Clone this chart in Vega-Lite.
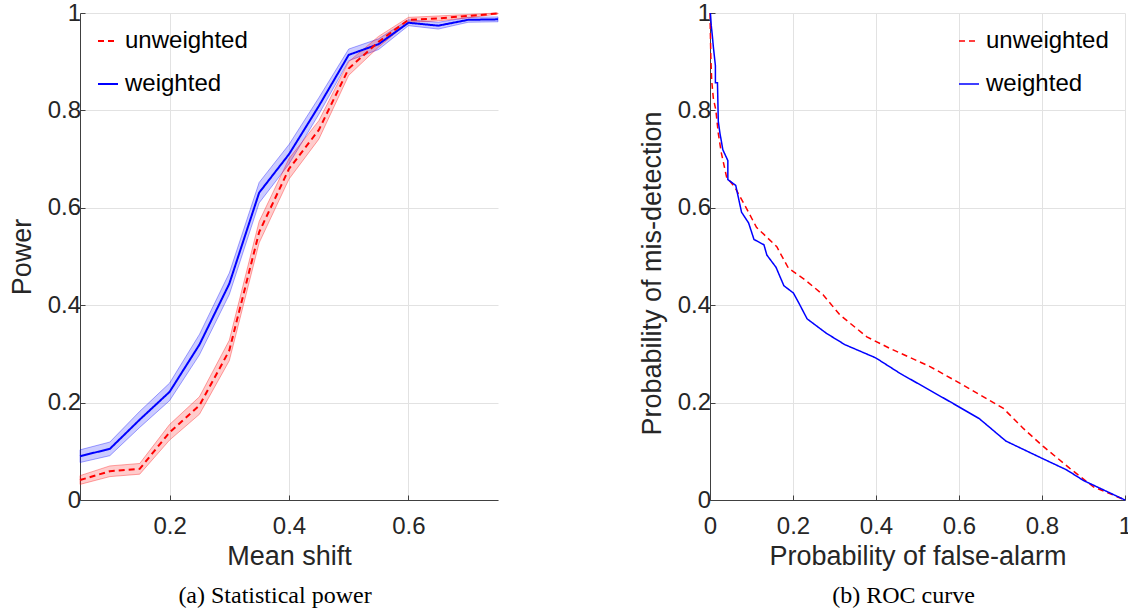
{
  "$schema": "https://vega.github.io/schema/vega-lite/v6.json",
  "padding": {"left": 8, "top": 1, "right": 0, "bottom": 0},
  "datasets": {
    "power": [
      {"shift": 0.05, "method": "weighted", "p": 0.090, "lo": 0.077, "hi": 0.103},
      {"shift": 0.10, "method": "weighted", "p": 0.105, "lo": 0.091, "hi": 0.119},
      {"shift": 0.15, "method": "weighted", "p": 0.165, "lo": 0.149, "hi": 0.182},
      {"shift": 0.20, "method": "weighted", "p": 0.222, "lo": 0.204, "hi": 0.240},
      {"shift": 0.25, "method": "weighted", "p": 0.319, "lo": 0.298, "hi": 0.340},
      {"shift": 0.30, "method": "weighted", "p": 0.444, "lo": 0.422, "hi": 0.466},
      {"shift": 0.35, "method": "weighted", "p": 0.631, "lo": 0.610, "hi": 0.652},
      {"shift": 0.40, "method": "weighted", "p": 0.710, "lo": 0.690, "hi": 0.730},
      {"shift": 0.45, "method": "weighted", "p": 0.809, "lo": 0.792, "hi": 0.826},
      {"shift": 0.50, "method": "weighted", "p": 0.914, "lo": 0.902, "hi": 0.926},
      {"shift": 0.55, "method": "weighted", "p": 0.936, "lo": 0.925, "hi": 0.947},
      {"shift": 0.60, "method": "weighted", "p": 0.980, "lo": 0.974, "hi": 0.986},
      {"shift": 0.65, "method": "weighted", "p": 0.974, "lo": 0.967, "hi": 0.981},
      {"shift": 0.70, "method": "weighted", "p": 0.986, "lo": 0.981, "hi": 0.991},
      {"shift": 0.75, "method": "weighted", "p": 0.987, "lo": 0.982, "hi": 0.992},
      {"shift": 0.05, "method": "unweighted", "p": 0.041, "lo": 0.032, "hi": 0.050},
      {"shift": 0.10, "method": "unweighted", "p": 0.059, "lo": 0.048, "hi": 0.070},
      {"shift": 0.15, "method": "unweighted", "p": 0.064, "lo": 0.053, "hi": 0.075},
      {"shift": 0.20, "method": "unweighted", "p": 0.139, "lo": 0.123, "hi": 0.155},
      {"shift": 0.25, "method": "unweighted", "p": 0.194, "lo": 0.176, "hi": 0.212},
      {"shift": 0.30, "method": "unweighted", "p": 0.307, "lo": 0.286, "hi": 0.328},
      {"shift": 0.35, "method": "unweighted", "p": 0.550, "lo": 0.528, "hi": 0.572},
      {"shift": 0.40, "method": "unweighted", "p": 0.680, "lo": 0.659, "hi": 0.701},
      {"shift": 0.45, "method": "unweighted", "p": 0.760, "lo": 0.741, "hi": 0.779},
      {"shift": 0.50, "method": "unweighted", "p": 0.886, "lo": 0.872, "hi": 0.900},
      {"shift": 0.55, "method": "unweighted", "p": 0.941, "lo": 0.930, "hi": 0.952},
      {"shift": 0.60, "method": "unweighted", "p": 0.986, "lo": 0.981, "hi": 0.991},
      {"shift": 0.65, "method": "unweighted", "p": 0.989, "lo": 0.984, "hi": 0.994},
      {"shift": 0.70, "method": "unweighted", "p": 0.994, "lo": 0.990, "hi": 0.997},
      {"shift": 0.75, "method": "unweighted", "p": 0.999, "lo": 0.998, "hi": 1.000}
    ],
    "roc": [
      {"method": "unweighted", "i": 1, "pfa": 0.0, "pmd": 1.0},
      {"method": "unweighted", "i": 2, "pfa": 0.002, "pmd": 0.910},
      {"method": "unweighted", "i": 3, "pfa": 0.004, "pmd": 0.862},
      {"method": "unweighted", "i": 4, "pfa": 0.008, "pmd": 0.825},
      {"method": "unweighted", "i": 5, "pfa": 0.014, "pmd": 0.801},
      {"method": "unweighted", "i": 6, "pfa": 0.020, "pmd": 0.753},
      {"method": "unweighted", "i": 7, "pfa": 0.027, "pmd": 0.714},
      {"method": "unweighted", "i": 8, "pfa": 0.040, "pmd": 0.663},
      {"method": "unweighted", "i": 9, "pfa": 0.060, "pmd": 0.642},
      {"method": "unweighted", "i": 10, "pfa": 0.084, "pmd": 0.605},
      {"method": "unweighted", "i": 11, "pfa": 0.112, "pmd": 0.560},
      {"method": "unweighted", "i": 12, "pfa": 0.161, "pmd": 0.520},
      {"method": "unweighted", "i": 13, "pfa": 0.169, "pmd": 0.507},
      {"method": "unweighted", "i": 14, "pfa": 0.189, "pmd": 0.476},
      {"method": "unweighted", "i": 15, "pfa": 0.229, "pmd": 0.452},
      {"method": "unweighted", "i": 16, "pfa": 0.273, "pmd": 0.421},
      {"method": "unweighted", "i": 17, "pfa": 0.313, "pmd": 0.380},
      {"method": "unweighted", "i": 18, "pfa": 0.378, "pmd": 0.335},
      {"method": "unweighted", "i": 19, "pfa": 0.434, "pmd": 0.311},
      {"method": "unweighted", "i": 20, "pfa": 0.530, "pmd": 0.274},
      {"method": "unweighted", "i": 21, "pfa": 0.610, "pmd": 0.236},
      {"method": "unweighted", "i": 22, "pfa": 0.707, "pmd": 0.188},
      {"method": "unweighted", "i": 23, "pfa": 0.755, "pmd": 0.147},
      {"method": "unweighted", "i": 24, "pfa": 0.803, "pmd": 0.110},
      {"method": "unweighted", "i": 25, "pfa": 0.867, "pmd": 0.065},
      {"method": "unweighted", "i": 26, "pfa": 0.924, "pmd": 0.027},
      {"method": "unweighted", "i": 27, "pfa": 1.0, "pmd": 0.0},
      {"method": "weighted", "i": 1, "pfa": 0.001, "pmd": 1.0},
      {"method": "weighted", "i": 2, "pfa": 0.003, "pmd": 0.975},
      {"method": "weighted", "i": 3, "pfa": 0.006, "pmd": 0.950},
      {"method": "weighted", "i": 4, "pfa": 0.008, "pmd": 0.931},
      {"method": "weighted", "i": 5, "pfa": 0.013, "pmd": 0.892},
      {"method": "weighted", "i": 6, "pfa": 0.013, "pmd": 0.857},
      {"method": "weighted", "i": 7, "pfa": 0.018, "pmd": 0.857},
      {"method": "weighted", "i": 8, "pfa": 0.020, "pmd": 0.777},
      {"method": "weighted", "i": 9, "pfa": 0.024, "pmd": 0.753},
      {"method": "weighted", "i": 10, "pfa": 0.031, "pmd": 0.719},
      {"method": "weighted", "i": 11, "pfa": 0.043, "pmd": 0.697},
      {"method": "weighted", "i": 12, "pfa": 0.043, "pmd": 0.658},
      {"method": "weighted", "i": 13, "pfa": 0.062, "pmd": 0.646},
      {"method": "weighted", "i": 14, "pfa": 0.076, "pmd": 0.591},
      {"method": "weighted", "i": 15, "pfa": 0.093, "pmd": 0.569},
      {"method": "weighted", "i": 16, "pfa": 0.106, "pmd": 0.535},
      {"method": "weighted", "i": 17, "pfa": 0.130, "pmd": 0.524},
      {"method": "weighted", "i": 18, "pfa": 0.137, "pmd": 0.503},
      {"method": "weighted", "i": 19, "pfa": 0.159, "pmd": 0.478},
      {"method": "weighted", "i": 20, "pfa": 0.178, "pmd": 0.440},
      {"method": "weighted", "i": 21, "pfa": 0.201, "pmd": 0.425},
      {"method": "weighted", "i": 22, "pfa": 0.215, "pmd": 0.403},
      {"method": "weighted", "i": 23, "pfa": 0.234, "pmd": 0.372},
      {"method": "weighted", "i": 24, "pfa": 0.281, "pmd": 0.342},
      {"method": "weighted", "i": 25, "pfa": 0.325, "pmd": 0.319},
      {"method": "weighted", "i": 26, "pfa": 0.399, "pmd": 0.292},
      {"method": "weighted", "i": 27, "pfa": 0.458, "pmd": 0.260},
      {"method": "weighted", "i": 28, "pfa": 0.578, "pmd": 0.202},
      {"method": "weighted", "i": 29, "pfa": 0.649, "pmd": 0.167},
      {"method": "weighted", "i": 30, "pfa": 0.713, "pmd": 0.121},
      {"method": "weighted", "i": 31, "pfa": 0.799, "pmd": 0.086},
      {"method": "weighted", "i": 32, "pfa": 0.859, "pmd": 0.062},
      {"method": "weighted", "i": 33, "pfa": 0.900, "pmd": 0.040},
      {"method": "weighted", "i": 34, "pfa": 1.0, "pmd": 0.0}
    ]
  },
  "hconcat": [
    {
      "width": 418,
      "height": 487,
      "title": {"text": "(a) Statistical power", "orient": "bottom", "frame": "group", "anchor": "middle", "dx": -14, "offset": 15, "font": "Liberation Serif", "fontSize": 24, "fontWeight": "normal", "color": "#000000"},
      "data": {"name": "power"},
      "layer": [
        {
          "mark": {"type": "area", "fillOpacity": 0.2, "strokeOpacity": 0.35, "strokeWidth": 1},
          "encoding": {
            "x": {"field": "shift", "type": "quantitative", "scale": {"domain": [0.05, 0.75], "nice": false, "zero": false}, "axis": {"title": "Mean shift", "values": [0.2, 0.4, 0.6], "format": "~g"}},
            "y": {"field": "lo", "type": "quantitative", "scale": {"domain": [0, 1], "nice": false}, "axis": {"title": "Power", "values": [0, 0.2, 0.4, 0.6, 0.8, 1], "format": "~g"}},
            "y2": {"field": "hi"},
            "fill": {"field": "method", "type": "nominal", "scale": {"domain": ["unweighted", "weighted"], "range": ["#ff0000", "#0000ff"]}, "legend": null},
            "stroke": {"field": "method", "type": "nominal", "scale": {"domain": ["unweighted", "weighted"], "range": ["#ff0000", "#0000ff"]}, "legend": null}
          }
        },
        {
          "mark": {"type": "line", "strokeWidth": 2},
          "encoding": {
            "x": {"field": "shift", "type": "quantitative"},
            "y": {"field": "p", "type": "quantitative", "axis": {"title": "Power", "values": [0, 0.2, 0.4, 0.6, 0.8, 1], "format": "~g"}},
            "color": {"field": "method", "type": "nominal", "scale": {"domain": ["unweighted", "weighted"], "range": ["#ff0000", "#0000ff"]}, "legend": {"orient": "top-left", "title": null, "symbolStrokeWidth": 2}},
            "strokeDash": {"field": "method", "type": "nominal", "scale": {"domain": ["unweighted", "weighted"], "range": [[6, 4], [1, 0]]}, "legend": {"orient": "top-left", "title": null, "symbolStrokeWidth": 2}}
          }
        }
      ]
    },
    {
      "width": 415,
      "height": 487,
      "title": {"text": "(b) ROC curve", "orient": "bottom", "frame": "group", "anchor": "middle", "dx": -14, "offset": 15, "font": "Liberation Serif", "fontSize": 24, "fontWeight": "normal", "color": "#000000"},
      "data": {"name": "roc"},
      "mark": {"type": "line", "strokeWidth": 1.5},
      "encoding": {
        "x": {"field": "pfa", "type": "quantitative", "scale": {"domain": [0, 1], "nice": false}, "axis": {"title": "Probability of false-alarm", "values": [0, 0.2, 0.4, 0.6, 0.8, 1], "format": "~g"}},
        "y": {"field": "pmd", "type": "quantitative", "scale": {"domain": [0, 1], "nice": false}, "axis": {"title": "Probability of mis-detection", "titleY": 260, "values": [0, 0.2, 0.4, 0.6, 0.8, 1], "format": "~g"}},
        "order": {"field": "i", "type": "quantitative"},
        "color": {"field": "method", "type": "nominal", "scale": {"domain": ["unweighted", "weighted"], "range": ["#ff0000", "#0000ff"]}, "legend": {"orient": "top-right", "title": null, "symbolStrokeWidth": 1.5}},
        "strokeDash": {"field": "method", "type": "nominal", "scale": {"domain": ["unweighted", "weighted"], "range": [[6, 4], [1, 0]]}, "legend": {"orient": "top-right", "title": null, "symbolStrokeWidth": 1.5}}
      }
    }
  ],
  "spacing": 136,
  "resolve": {
    "scale": {"color": "independent", "strokeDash": "independent", "x": "independent", "y": "independent"},
    "legend": {"color": "independent", "strokeDash": "independent"}
  },
  "config": {
    "font": "Liberation Sans",
    "view": {"stroke": null},
    "axis": {
      "grid": true,
      "gridColor": "#e2e2e2",
      "gridWidth": 1,
      "domainColor": "#404040",
      "domainWidth": 1,
      "tickColor": "#404040",
      "tickSize": -5,
      "ticks": true,
      "labelFont": "Liberation Sans",
      "labelFontSize": 24,
      "labelColor": "#262626",
      "labelFlush": false,
      "labelOverlap": false,
      "titleFont": "Liberation Sans",
      "titleFontSize": 27,
      "titleFontWeight": "normal",
      "titleColor": "#262626"
    },
    "axisX": {"labelPadding": 19, "titlePadding": 5},
    "axisY": {"labelPadding": 4.5, "titlePadding": 10.5},
    "legend": {
      "symbolType": "stroke",
      "symbolSize": 400,
      "labelFont": "Liberation Sans",
      "labelFontSize": 24,
      "labelColor": "#000000",
      "labelOffset": 5,
      "rowPadding": 19,
      "offset": 16,
      "padding": 0
    }
  }
}
